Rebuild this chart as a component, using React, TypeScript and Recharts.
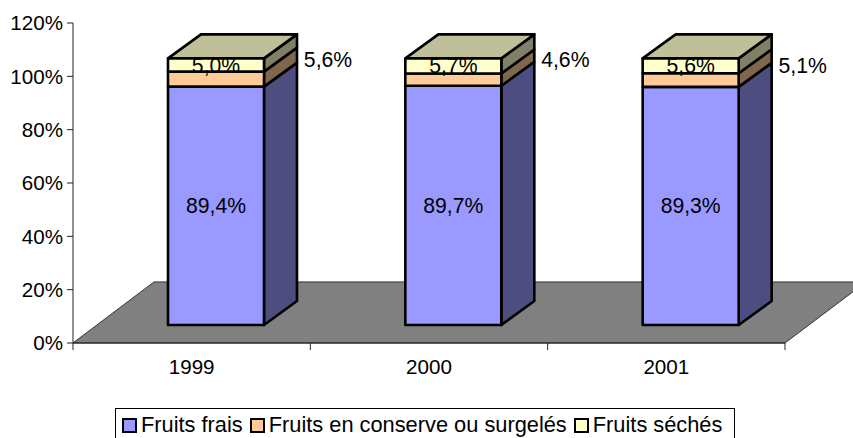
import React from "react";
import {
  BarChart,
  Bar,
  XAxis,
  YAxis,
  Legend,
  LabelList,
  ReferenceArea,
} from "recharts";

const years = ["1999", "2000", "2001"];
const frais = [89.4, 89.7, 89.3];
const conserve = [5.6, 4.6, 5.1];
const seches = [5.0, 5.7, 5.6];
const yTicks = [0, 20, 40, 60, 80, 100, 120];

const data = years.map((year, i) => ({
  year,
  frais: frais[i],
  conserve: conserve[i],
  seches: seches[i],
}));

const FONT = "'Liberation Sans', Arial, sans-serif";
const AXIS_SIZE = 20.6;
const LABEL_SIZE = 21.2;
const LEGEND_SIZE = 21.8;

// fake 3D: front plane is pushed back from the axis plane, bars have this depth
const FRONT_DX = 24;
const FRONT_DY = -18;
const DEPTH_DX = 33;
const DEPTH_DY = -24;
const FLOOR_DX = 81;
const BAND = (785 - 73) / 3;

const fmt = (v: number) => v.toFixed(1).replace(".", ",") + "%";

const Floor = (props: any) => {
  const { x, y, width, height } = props;
  const points = [
    [x, y + height],
    [x + width, y + height],
    [x + width + FLOOR_DX, y],
    [x + FLOOR_DX, y],
  ]
    .map((p) => p.join(","))
    .join(" ");
  return <polygon points={points} fill="#808080" stroke="#333333" strokeWidth={1} />;
};

const prism = (sideColor: string, topColor?: string) => (props: any) => {
  const { fill, width, height } = props;
  const x = props.x + FRONT_DX;
  const y = props.y + FRONT_DY;
  const r = x + width;
  const b = y + height;
  const line = { stroke: "#000", strokeWidth: 2.6, strokeLinejoin: "round" as const };
  return (
    <g>
      <polygon
        points={`${r},${y} ${r + DEPTH_DX},${y + DEPTH_DY} ${r + DEPTH_DX},${b + DEPTH_DY} ${r},${b}`}
        fill={sideColor}
        {...line}
      />
      {topColor && (
        <polygon
          points={`${x},${y} ${x + DEPTH_DX},${y + DEPTH_DY} ${r + DEPTH_DX},${y + DEPTH_DY} ${r},${y}`}
          fill={topColor}
          {...line}
        />
      )}
      <rect x={x} y={y} width={width} height={height} fill={fill} {...line} />
    </g>
  );
};

const barLabel = (shiftX: number, shiftY: number[]) => (props: any) => {
  const { x, y, width, height, value, index } = props;
  return (
    <text
      x={x + width / 2 + FRONT_DX + shiftX}
      y={y + height / 2 + FRONT_DY + shiftY[index]}
      textAnchor="middle"
      dominantBaseline="central"
      fontFamily={FONT}
      fontSize={LABEL_SIZE}
      fill="#000"
    >
      {fmt(Number(value))}
    </text>
  );
};

// category labels with the tick marks on the band edges
const YearTick = (props: any) => {
  const { x, y, payload, index } = props;
  const left = x - BAND / 2;
  return (
    <g>
      <line x1={left} y1={343} x2={left} y2={350} stroke="#222" />
      {index === years.length - 1 && (
        <line x1={left + BAND} y1={343} x2={left + BAND} y2={350} stroke="#222" />
      )}
      <text
        x={x}
        y={y + 23}
        textAnchor="middle"
        fontFamily={FONT}
        fontSize={AXIS_SIZE}
        fill="#000"
      >
        {payload.value}
      </text>
    </g>
  );
};

const LegendBox = ({ payload }: any) => (
  <div
    style={{
      boxSizing: "border-box",
      width: 620,
      height: 34,
      border: "1px solid #000",
      background: "#fff",
      display: "flex",
      alignItems: "center",
      paddingLeft: 6,
      fontFamily: FONT,
      fontSize: LEGEND_SIZE,
      color: "#000",
      whiteSpace: "nowrap",
    }}
  >
    {(payload || []).map((item: any) => (
      <span
        key={item.value}
        style={{ display: "inline-flex", alignItems: "center", marginRight: 7 }}
      >
        <span
          style={{
            display: "inline-block",
            boxSizing: "border-box",
            width: 15,
            height: 15,
            marginRight: 4,
            background: item.color,
            border: "2px solid #000",
          }}
        />
        {item.value}
      </span>
    ))}
  </div>
);

export default function App() {
  return (
    <div style={{ position: "absolute", left: 0, top: 0, width: 853, height: 438, overflow: "hidden" }}>
      <BarChart
        width={853}
        height={438}
        data={data}
        barSize={96}
        margin={{ top: 23, right: 68, bottom: 65, left: 13 }}
      >
        <XAxis
          dataKey="year"
          height={30}
          stroke="#222"
          tickLine={false}
          tick={<YearTick />}
          interval={0}
        />
        <YAxis
          width={60}
          domain={[0, 120]}
          ticks={yTicks}
          tickFormatter={(v: number) => `${v}%`}
          stroke="#222"
          tickSize={6}
          tickMargin={4}
          tick={{ fill: "#000", fontSize: AXIS_SIZE, fontFamily: FONT }}
        />
        <ReferenceArea
          x1="1999"
          x2="2001"
          y1={0}
          y2={22.9}
          ifOverflow="visible"
          shape={(props: any) => <Floor {...props} />}
        />
        <Legend
          layout="horizontal"
          verticalAlign="middle"
          align="center"
          itemSorter={null}
          content={<LegendBox />}
          wrapperStyle={{ left: 115, top: 408, width: 620 }}
        />
        <Bar
          dataKey="frais"
          name="Fruits frais"
          stackId="a"
          fill="#9999FF"
          isAnimationActive={false}
          shape={prism("#4D4D80")}
        >
          <LabelList dataKey="frais" content={barLabel(0, [0, 0, 0])} />
        </Bar>
        <Bar
          dataKey="conserve"
          name="Fruits en conserve ou surgelés"
          stackId="a"
          fill="#FFCC99"
          isAnimationActive={false}
          shape={prism("#80664D")}
        >
          <LabelList dataKey="conserve" content={barLabel(112, [-20, -20, -15])} />
        </Bar>
        <Bar
          dataKey="seches"
          name="Fruits séchés"
          stackId="a"
          fill="#FFFFCC"
          isAnimationActive={false}
          shape={prism("#808066", "#BFBF99")}
        >
          <LabelList dataKey="seches" content={barLabel(0, [0, 0, 0])} />
        </Bar>
      </BarChart>
    </div>
  );
}
